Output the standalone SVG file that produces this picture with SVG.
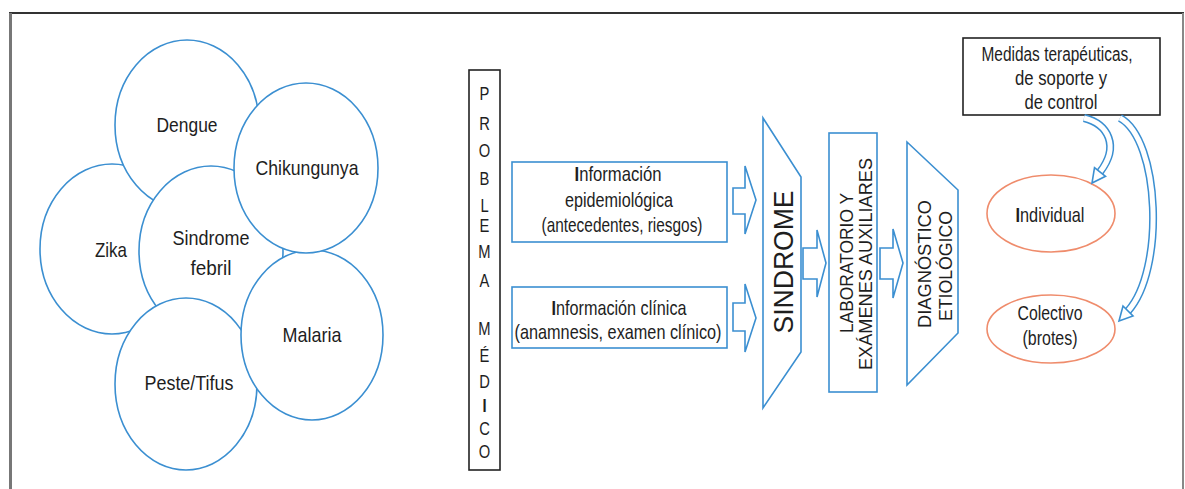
<svg xmlns="http://www.w3.org/2000/svg" width="1185" height="489" viewBox="0 0 1185 489">
<style>
  text { font-family: "Liberation Sans", Arial, sans-serif; fill: #1e1e1e; }
  .c { fill: #fff; stroke: #3b8fd1; stroke-width: 1.6; }
  .bl { fill: #fff; stroke: #3b8fd1; stroke-width: 1.6; }
  .bk { fill: #fff; stroke: #222; stroke-width: 1.6; }
  .or { fill: #fff; stroke: #ef8c6c; stroke-width: 1.6; }
  .t21 { font-size: 21px; text-anchor: middle; }
  .t20 { font-size: 20px; text-anchor: middle; }
  .pm { font-size: 18px; text-anchor: middle; }
  .band { fill: none; stroke: #3b8fd1; stroke-width: 8; }
  .bandw { fill: none; stroke: #fff; stroke-width: 5; }
</style>

<!-- frame -->
<g id="frame">
  <line x1="9" y1="13" x2="1184" y2="13" stroke="#333" stroke-width="2"/>
  <line x1="10.5" y1="13" x2="10.5" y2="489" stroke="#777" stroke-width="3"/>
  <line x1="1183" y1="13" x2="1183" y2="489" stroke="#888" stroke-width="2"/>
</g>

<!-- circles -->
<g id="zika"><ellipse class="c" cx="112" cy="249" rx="72" ry="85"/><text class="t21" x="111" y="257" textLength="32" lengthAdjust="spacingAndGlyphs">Zika</text></g>
<g id="dengue"><ellipse class="c" cx="187" cy="125" rx="72" ry="85"/><text class="t21" x="187" y="132" textLength="61" lengthAdjust="spacingAndGlyphs">Dengue</text></g>
<g id="sindrome-febril"><ellipse class="c" cx="211" cy="251" rx="72" ry="85"/>
  <text class="t21" x="211" y="245" textLength="77" lengthAdjust="spacingAndGlyphs">Sindrome</text>
  <text class="t21" x="211" y="275" textLength="41" lengthAdjust="spacingAndGlyphs">febril</text></g>
<g id="peste-tifus"><ellipse class="c" cx="186" cy="384" rx="71" ry="86"/><text class="t21" x="189" y="390" textLength="89" lengthAdjust="spacingAndGlyphs">Peste/Tifus</text></g>
<g id="malaria"><ellipse class="c" cx="312" cy="335" rx="71" ry="85"/><text class="t21" x="312" y="342" textLength="59" lengthAdjust="spacingAndGlyphs">Malaria</text></g>
<g id="chikungunya"><ellipse class="c" cx="306" cy="168" rx="72" ry="85"/><text class="t21" x="307" y="175" textLength="103" lengthAdjust="spacingAndGlyphs">Chikungunya</text></g>

<!-- problema medico -->
<g id="problema-medico">
  <rect class="bk" x="469" y="70" width="31" height="400"/>
  <g transform="translate(484.5,0) scale(0.82,1)">
    <text class="pm" x="0" y="100">P</text>
    <text class="pm" x="0" y="130">R</text>
    <text class="pm" x="0" y="157">O</text>
    <text class="pm" x="0" y="185">B</text>
    <text class="pm" x="0" y="212">L</text>
    <text class="pm" x="0" y="232">E</text>
    <text class="pm" x="0" y="258">M</text>
    <text class="pm" x="0" y="287">A</text>
    <text class="pm" x="0" y="335">M</text>
    <text class="pm" x="0" y="362">É</text>
    <text class="pm" x="0" y="388">D</text>
    <text class="pm" x="0" y="412" font-weight="bold">I</text>
    <text class="pm" x="0" y="435">C</text>
    <text class="pm" x="0" y="458">O</text>
  </g>
</g>

<g id="info-epidemiologica">
  <rect class="bl" x="512" y="162" width="215" height="80"/>
  <text class="t21" x="618" y="181" textLength="87" lengthAdjust="spacingAndGlyphs"><tspan font-weight="bold">I</tspan>nformación</text>
  <text class="t21" x="619" y="207" textLength="108" lengthAdjust="spacingAndGlyphs">epidemiológica</text>
  <text class="t21" x="622" y="232" textLength="161" lengthAdjust="spacingAndGlyphs">(antecedentes, riesgos)</text>
</g>

<g id="info-clinica">
  <rect class="bl" x="512" y="287" width="215" height="61"/>
  <text class="t21" x="619" y="315" textLength="135" lengthAdjust="spacingAndGlyphs"><tspan font-weight="bold">I</tspan>nformación clínica</text>
  <text class="t21" x="618" y="339" textLength="207" lengthAdjust="spacingAndGlyphs">(anamnesis, examen clínico)</text>
</g>

<g id="sindrome">
  <polygon class="bl" points="763,118 801,177 801,352 763,408"/>
  <text transform="translate(793,262) rotate(-90)" font-size="28" text-anchor="middle" x="0" y="0" textLength="143" lengthAdjust="spacingAndGlyphs">SINDROME</text>
</g>

<g id="laboratorio">
  <rect class="bl" x="829" y="133" width="48" height="259"/>
  <text transform="translate(853,263) rotate(-90)" font-size="18" text-anchor="middle" x="0" y="0" textLength="140" lengthAdjust="spacingAndGlyphs">LABORATORIO Y</text>
  <text transform="translate(872,264) rotate(-90)" font-size="18" text-anchor="middle" x="0" y="0" textLength="212" lengthAdjust="spacingAndGlyphs">EXÁMENES AUXILIARES</text>
</g>

<g id="diagnostico">
  <polygon class="bl" points="907,142 958,190 958,333 907,385"/>
  <text transform="translate(931,264) rotate(-90)" font-size="18" text-anchor="middle" x="0" y="0" textLength="128" lengthAdjust="spacingAndGlyphs">DIAGNÓSTICO</text>
  <text transform="translate(952,266) rotate(-90)" font-size="18" text-anchor="middle" x="0" y="0" textLength="110" lengthAdjust="spacingAndGlyphs">ETIOLÓGICO</text>
</g>

<g id="medidas">
  <rect class="bk" x="963" y="38" width="197" height="77"/>
  <text class="t20" x="1057" y="61" textLength="151" lengthAdjust="spacingAndGlyphs">Medidas terapéuticas,</text>
  <text class="t20" x="1061" y="85" textLength="92" lengthAdjust="spacingAndGlyphs">de soporte y</text>
  <text class="t20" x="1061" y="109" textLength="73" lengthAdjust="spacingAndGlyphs">de control</text>
</g>

<g id="individual">
  <ellipse class="or" cx="1051" cy="213.5" rx="64" ry="38.5"/>
  <text class="t21" x="1050" y="222" textLength="69" lengthAdjust="spacingAndGlyphs"><tspan font-weight="bold">I</tspan>ndividual</text>
</g>

<g id="colectivo">
  <ellipse class="or" cx="1051" cy="329" rx="64" ry="34"/>
  <text class="t21" x="1050" y="320" textLength="65" lengthAdjust="spacingAndGlyphs">Colectivo</text>
  <text class="t21" x="1050" y="345" textLength="55" lengthAdjust="spacingAndGlyphs">(brotes)</text>
</g>

<!-- connectors -->
<g id="connectors">
  <polygon class="bl" points="733,188 745,188 745,166 756,200 745,234 745,214 733,214"/>
  <polygon class="bl" points="733,303 745,303 745,284 756,318 745,352 745,331 733,331"/>
  <polygon class="bl" points="803,248 817,248 817,230 826,263 817,297 817,279 803,279"/>
  <polygon class="bl" points="880,248 893,248 893,229 903,263 893,298 893,279 880,279"/>

  <path class="band" d="M1084 118 C1108 124, 1120 146, 1100 172"/>
  <path class="bandw" d="M1084 118 C1108 124, 1120 146, 1100 172"/>
  <polygon class="bl" points="1094.5,167.7 1105.5,176.3 1092,183"/>

  <path class="band" d="M1120 118 C1160 140, 1165 270, 1128 311"/>
  <path class="bandw" d="M1120 118 C1160 140, 1165 270, 1128 311"/>
  <polygon class="bl" points="1123,306 1133,316 1119,321"/>
</g>
</svg>
